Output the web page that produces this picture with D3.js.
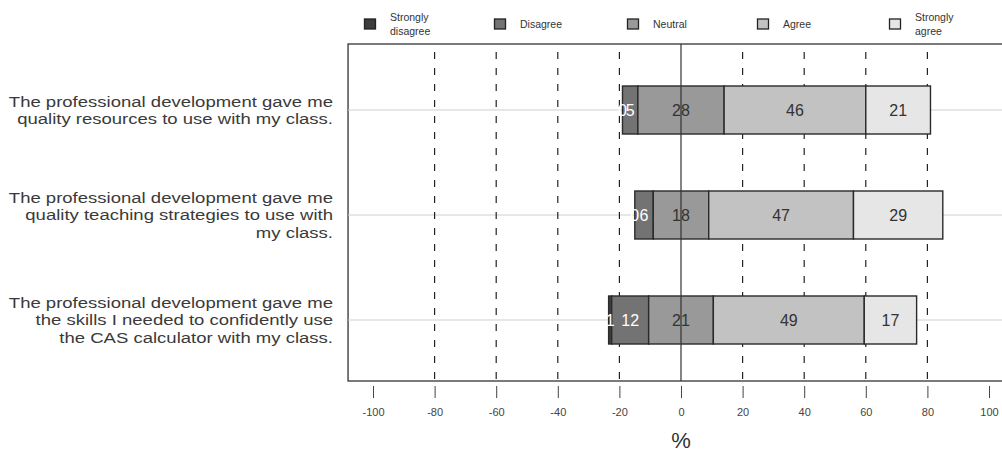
<!DOCTYPE html>
<html>
<head>
<meta charset="utf-8">
<script src="https://cdn.jsdelivr.net/npm/d3@7"></script>
<style>
  html, body { margin: 0; padding: 0; background: #fff; }
  svg { display: block; font-family: "Liberation Sans", Arial, sans-serif; }
</style>
</head>
<body>
<svg id="chart" width="1002" height="455"></svg>
<script>
// ---- data ----
const questions = [
  ["The professional development gave me", "quality resources to use with my class."],
  ["The professional development gave me", "quality teaching strategies to use with", "my class."],
  ["The professional development gave me", "the skills I needed to confidently use", "the CAS calculator with my class."]
];
const levels = ["Strongly disagree", "Disagree", "Neutral", "Agree", "Strongly agree"];
const legendLabels = [["Strongly", "disagree"], ["Disagree"], ["Neutral"], ["Agree"], ["Strongly", "agree"]];
const stronglyDisagree = [0, 0, 1];
const disagree = [5, 6, 12];
const neutral = [28, 18, 21];
const agree = [46, 47, 49];
const stronglyAgree = [21, 29, 17];
const xTicks = [-100, -80, -60, -40, -20, 0, 20, 40, 60, 80, 100];
const gridTicks = [-80, -60, -40, -20, 20, 40, 60, 80];
const fills = ["#3d3d3d", "#737373", "#999999", "#c2c2c2", "#e6e6e6"];

// ---- layout ----
const svg = d3.select("#chart");
const x = d3.scaleLinear().domain([-100, 100]).range([373, 989]);
const boxLeft = x(-108.1), boxRight = x(108.1);
const boxTop = 44, boxBottom = 381;
const y = d3.scalePoint().domain(d3.range(questions.length)).range([110, 320]);
const barH = 48;

// box
svg.append("rect").attr("x", boxLeft).attr("y", boxTop)
  .attr("width", boxRight - boxLeft).attr("height", boxBottom - boxTop)
  .attr("fill", "none").attr("stroke", "#333").attr("stroke-width", 1.3);

// horizontal light lines
svg.append("g").selectAll("line").data(d3.range(questions.length)).join("line")
  .attr("x1", boxLeft).attr("x2", boxRight)
  .attr("y1", i => y(i)).attr("y2", i => y(i))
  .attr("stroke", "#cfcfcf").attr("stroke-width", 1);

// dashed vertical grid
svg.append("g").selectAll("line").data(gridTicks).join("line")
  .attr("x1", d => x(d)).attr("x2", d => x(d))
  .attr("y1", boxTop).attr("y2", boxBottom)
  .attr("stroke", "#222").attr("stroke-width", 1.2)
  .attr("stroke-dasharray", "7,9").attr("stroke-dashoffset", -8);

// stacked diverging bars
const rows = questions.map((q, i) => {
  const vals = [stronglyDisagree[i], disagree[i], neutral[i], agree[i], stronglyAgree[i]];
  let start = -(vals[0] + vals[1] + vals[2] / 2);
  return vals.map((v, k) => { const seg = { row: i, k, v, x0: start, x1: start + v }; start += v; return seg; });
});
const segs = rows.flat();
const bars = svg.append("g");
bars.selectAll("rect").data(segs.filter(s => s.v > 0)).join("rect")
  .attr("x", s => x(s.x0)).attr("width", s => x(s.x1) - x(s.x0))
  .attr("y", s => y(s.row) - barH / 2).attr("height", barH)
  .attr("fill", s => fills[s.k]).attr("stroke", "#2a2a2a").attr("stroke-width", 1.4);

// labels
bars.selectAll("text").data(segs).join("text")
  .attr("x", s => x((s.x0 + s.x1) / 2)).attr("y", s => y(s.row))
  .attr("dy", "0.36em").attr("text-anchor", "middle")
  .attr("font-size", 16)
  .attr("fill", s => s.k <= 1 ? "#ffffff" : "#333333")
  .text(s => s.v);

// zero line
svg.append("line").attr("x1", x(0)).attr("x2", x(0)).attr("y1", boxTop).attr("y2", boxBottom)
  .attr("stroke", "#333").attr("stroke-width", 1.2);

// x axis ticks
const ax = svg.append("g").attr("transform", `translate(0,${boxBottom + 5})`)
  .call(d3.axisBottom(x).tickValues(xTicks).tickSize(12).tickPadding(10).tickFormat(d => String(d)));
ax.select(".domain").remove();
ax.selectAll(".tick line").attr("stroke", "#444");
ax.selectAll(".tick text").attr("font-size", 11).attr("fill", "#444").attr("font-family", "Liberation Sans, Arial, sans-serif");

svg.append("text").attr("x", x(0)).attr("y", 448).attr("text-anchor", "middle")
  .attr("font-size", 22).attr("fill", "#333").text("%");

// y labels
const yl = svg.append("g");
questions.forEach((lines, i) => {
  const cy = y(i);
  const lh = 17.5;
  const t = yl.append("text").attr("text-anchor", "end").attr("font-size", 15).attr("fill", "#3a3a3a")
    .attr("transform", `translate(333,${cy}) scale(1.235,1)`);
  lines.forEach((ln, j) => {
    t.append("tspan").attr("x", 0).attr("y", (j - (lines.length - 1) / 2) * lh).attr("dy", "0.36em").text(ln);
  });
});

// legend
const lg = svg.append("g");
const legX = [370, 500, 633, 763, 895];
levels.forEach((lev, k) => {
  lg.append("rect").attr("x", legX[k] - 5.5).attr("y", 19).attr("width", 11).attr("height", 10)
    .attr("fill", fills[k]).attr("stroke", "#222").attr("stroke-width", 1.3);
  const lines = legendLabels[k];
  const t = lg.append("text").attr("font-size", 10.5).attr("fill", "#333");
  lines.forEach((ln, j) => {
    t.append("tspan").attr("x", legX[k] + 20).attr("y", 24 + (j - (lines.length - 1) / 2) * 14).attr("dy", "0.36em").text(ln);
  });
});
</script>
</body>
</html>
